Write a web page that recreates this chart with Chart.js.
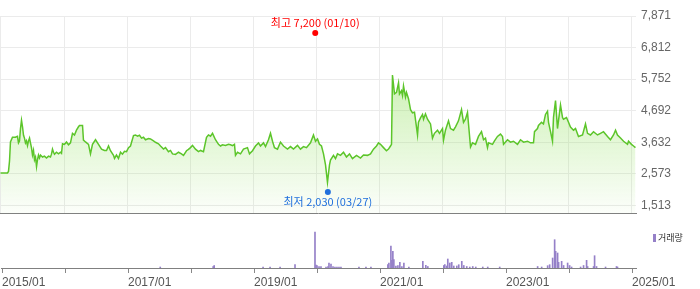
<!DOCTYPE html>
<html><head><meta charset="utf-8">
<script src="https://cdn.jsdelivr.net/npm/chart.js@4.4.1/dist/chart.umd.min.js"></script>
<style>
html,body{margin:0;padding:0;background:#fff;}
#wrap{position:relative;width:700px;height:289px;overflow:hidden;}
#p{position:absolute;left:0;top:0;}
#v{position:absolute;left:0;top:226px;}
</style></head><body>
<div id="wrap"><canvas id="p" width="700" height="226"></canvas><canvas id="v" width="700" height="63"></canvas></div>
<script>
// ---- data (dates as decimal years) ----
const priceDates = [2014.992,2015.103,2015.119,2015.135,2015.150,2015.182,2015.230,2015.246,2015.261,2015.277,2015.293,2015.309,2015.325,2015.341,2015.357,2015.372,2015.388,2015.404,2015.420,2015.436,2015.452,2015.467,2015.483,2015.499,2015.515,2015.531,2015.547,2015.563,2015.578,2015.594,2015.610,2015.626,2015.658,2015.689,2015.721,2015.753,2015.784,2015.800,2015.816,2015.832,2015.848,2015.879,2015.911,2015.943,2015.959,2015.975,2016.006,2016.038,2016.070,2016.101,2016.133,2016.165,2016.196,2016.228,2016.244,2016.292,2016.307,2016.339,2016.387,2016.418,2016.450,2016.498,2016.545,2016.593,2016.640,2016.672,2016.704,2016.735,2016.783,2016.799,2016.830,2016.862,2016.894,2016.925,2016.957,2016.989,2017.021,2017.052,2017.100,2017.131,2017.163,2017.195,2017.227,2017.258,2017.290,2017.338,2017.369,2017.417,2017.448,2017.496,2017.528,2017.575,2017.607,2017.654,2017.686,2017.718,2017.765,2017.813,2017.860,2017.892,2017.940,2017.971,2018.003,2018.035,2018.082,2018.130,2018.162,2018.209,2018.257,2018.288,2018.320,2018.352,2018.399,2018.447,2018.479,2018.510,2018.558,2018.605,2018.637,2018.669,2018.700,2018.716,2018.748,2018.796,2018.843,2018.906,2018.938,2018.986,2019.033,2019.081,2019.112,2019.160,2019.192,2019.239,2019.271,2019.303,2019.334,2019.382,2019.429,2019.477,2019.540,2019.588,2019.635,2019.699,2019.746,2019.794,2019.841,2019.905,2019.952,2019.984,2020.016,2020.047,2020.079,2020.111,2020.143,2020.174,2020.206,2020.222,2020.269,2020.301,2020.333,2020.380,2020.428,2020.475,2020.523,2020.570,2020.634,2020.697,2020.745,2020.808,2020.856,2020.903,2020.951,2020.983,2021.014,2021.062,2021.109,2021.141,2021.173,2021.189,2021.204,2021.236,2021.268,2021.300,2021.315,2021.347,2021.363,2021.379,2021.410,2021.426,2021.458,2021.490,2021.521,2021.553,2021.601,2021.616,2021.648,2021.680,2021.696,2021.727,2021.759,2021.807,2021.838,2021.870,2021.918,2021.949,2021.997,2022.013,2022.044,2022.092,2022.124,2022.171,2022.203,2022.250,2022.298,2022.330,2022.361,2022.393,2022.441,2022.472,2022.520,2022.567,2022.615,2022.647,2022.678,2022.710,2022.726,2022.789,2022.821,2022.868,2022.916,2022.948,2022.964,2023.027,2023.074,2023.122,2023.185,2023.233,2023.281,2023.344,2023.391,2023.439,2023.455,2023.502,2023.518,2023.566,2023.597,2023.629,2023.661,2023.677,2023.708,2023.740,2023.756,2023.788,2023.819,2023.867,2023.899,2023.914,2023.962,2023.994,2024.025,2024.073,2024.105,2024.152,2024.216,2024.263,2024.295,2024.342,2024.390,2024.453,2024.501,2024.548,2024.612,2024.659,2024.707,2024.739,2024.770,2024.818,2024.866,2024.929,2024.945,2024.992,2025.024,2025.055];
const priceValues = [2600,2600,2650,3000,3640,3800,3800,3820,3830,3610,3675,4090,4370,4150,3865,3770,3610,3680,3515,3675,3770,3610,3450,3200,3355,3040,3135,2815,3040,3200,3100,3200,3135,3165,3100,3165,3135,3230,3400,3295,3230,3295,3240,3295,3260,3580,3560,3640,3545,3610,3930,3875,4035,4150,4195,4195,3700,3640,3560,3240,3560,3715,3560,3400,3355,3355,3505,3345,3190,3085,3200,3085,3295,3230,3325,3315,3450,3505,3855,3875,3835,3865,3770,3800,3715,3755,3740,3675,3630,3580,3505,3400,3450,3315,3355,3240,3220,3295,3240,3190,3345,3390,3450,3525,3400,3315,3355,3315,3795,3875,3835,3930,3715,3560,3505,3545,3525,3565,3545,3515,3560,3190,3295,3240,3400,3450,3240,3345,3505,3610,3505,3610,3485,3715,3930,3665,3450,3400,3635,3505,3400,3485,3400,3525,3400,3485,3450,3610,3875,3665,3740,3560,3505,3240,2870,2285,2870,3030,3190,3080,3240,3190,3295,3135,3240,3080,3190,3100,3205,3190,3240,3400,3505,3610,3560,3450,3345,3400,3505,3560,5890,5255,5305,5625,5255,5360,5200,5520,5145,5305,5095,4725,4620,4640,3875,4300,4450,4565,4405,4585,4405,4245,3770,3930,4035,3930,4090,3700,4035,4350,4090,4035,4150,4350,4725,4300,4405,4630,3470,3610,3560,3825,3985,3715,3770,3450,3610,3560,3675,3825,3905,3825,3560,3715,3635,3665,3560,3715,3635,3665,3610,3610,3985,4090,4195,4300,4245,4565,4670,4300,3995,3665,4470,5030,4090,4880,4460,4405,4460,4300,4140,4035,4090,3825,3875,4245,3930,3875,3985,3875,3930,3985,3825,3715,3875,4035,3875,3770,3665,3560,3665,3560,3505,3450];

const volumeDates = [2017.512,2018.352,2018.368,2019.144,2019.255,2019.414,2019.651,2019.968,2019.984,2020.000,2020.032,2020.063,2020.143,2020.174,2020.190,2020.222,2020.254,2020.285,2020.317,2020.349,2020.380,2020.666,2020.777,2020.856,2021.125,2021.141,2021.173,2021.189,2021.204,2021.220,2021.252,2021.284,2021.315,2021.347,2021.379,2021.458,2021.680,2021.727,2021.759,2022.013,2022.029,2022.060,2022.076,2022.108,2022.139,2022.171,2022.219,2022.250,2022.298,2022.330,2022.377,2022.425,2022.472,2022.520,2022.631,2022.710,2022.900,2023.502,2023.566,2023.661,2023.693,2023.740,2023.772,2023.788,2023.819,2023.835,2023.883,2023.914,2023.978,2024.010,2024.041,2024.184,2024.231,2024.279,2024.295,2024.390,2024.406,2024.437,2024.580,2024.754,2024.770];
const volumeValues = [1,1.5,2.5,1,1,1,3.5,36,3,2.5,1.5,1.5,1,1.5,5,4,1.5,1,1,1,1,1,1,1,3.3,5,22,7.7,16.7,8.3,2,2.5,5.7,1.5,5,1,6.7,2.7,1.5,2.5,3.3,2,9,5,5.7,2,2,3.3,6.7,2.5,1.5,1,1.5,1,1,1,1,1.5,1,2.3,3.3,10,28.3,16.7,15,5.7,6.7,2.5,5,2.5,1,1,2.5,7.7,1.5,1.5,12.3,1.5,1,1.5,1];

const yearTicks = [2015,2016,2017,2018,2019,2020,2021,2022,2023,2024,2025];
const labeledYears = [2015,2017,2019,2021,2023,2025];
const yearLabels = ['2015/01','2017/01','2019/01','2021/01','2023/01','2025/01'];
const priceTicks = [1513,2573,3632,4692,5752,6812,7871];
const highMark = {date:2019.98, value:7200, label:'최고 7,200 (01/10)'};
const lowMark = {date:2020.18, value:2030, label:'최저 2,030 (03/27)'};
const volumeLegend = '거래량';

// ---- styling ----
const X_MIN = 2014.9842, X_MAX = 2025.0634;
const Y_MIN = 1227, Y_MAX = 7871;
const NARROW = "'Liberation Sans Narrow','Liberation Sans',Arial,sans-serif";
const KR = "'Noto Sans CJK KR','Noto Sans',sans-serif";
const LINE = '#5cc52a';
const VOL = '#9580c8';
const GRID = '#ebebeb';

const xTicksFn = s => { s.ticks = yearTicks.map(v => ({value: v})); };

const markPlugin = {
  id: 'marks',
  afterDatasetsDraw(chart) {
    const {ctx, scales:{x, y}} = chart;
    const items = [[highMark, '#ff0000', -3, -10], [lowMark, '#1f6fdc', 2, 10]];
    ctx.save();
    for (const [m, col, dOff, tOff] of items) {
      const px = x.getPixelForValue(m.date), py = y.getPixelForValue(m.value) + dOff;
      ctx.fillStyle = col;
      ctx.beginPath(); ctx.arc(px, py, 3, 0, Math.PI * 2); ctx.fill();
      ctx.font = '11px ' + KR;
      ctx.textAlign = 'center'; ctx.textBaseline = 'middle';
      ctx.fillText(m.label, px, py + tOff);
    }
    ctx.restore();
  }
};

new Chart(document.getElementById('p'), {
  type: 'line',
  data: { datasets: [{
    data: priceDates.map((d, i) => ({x: d, y: priceValues[i]})),
    borderColor: LINE, borderWidth: 1.5, pointRadius: 0, tension: 0,
    fill: 'start',
    backgroundColor: (c) => {
      const {ctx, chartArea} = c.chart;
      if (!chartArea) return 'rgba(150,225,100,0.3)';
      const g = ctx.createLinearGradient(0, chartArea.top, 0, chartArea.bottom);
      g.addColorStop(0, 'rgba(150,225,100,0.66)');
      g.addColorStop(1, 'rgba(150,225,100,0.03)');
      return g;
    }
  }]},
  options: {
    responsive: false, animation: false, devicePixelRatio: 1,
    layout: { padding: { top: 16, left: 0, right: 0, bottom: 0 } },
    plugins: { legend: { display: false }, tooltip: { enabled: false } },
    scales: {
      x: { type: 'linear', min: X_MIN, max: X_MAX, afterBuildTicks: xTicksFn,
           ticks: { display: false }, grid: { color: GRID, drawTicks: false },
           border: { display: true, color: '#808080' } },
      y: { position: 'right', min: Y_MIN, max: Y_MAX,
           afterBuildTicks: s => { s.ticks = priceTicks.map(v => ({value: v})); },
           afterFit: s => { s.width = 64; },
           ticks: { color: '#666', padding: 5, font: { family: NARROW, size: 12 },
                    callback: v => v.toLocaleString('en-US') },
           grid: { color: GRID, drawTicks: false }, border: { display: false } }
    }
  },
  plugins: [markPlugin]
});

const legendPlugin = {
  id: 'volLegend',
  afterDraw(chart) {
    const {ctx, chartArea} = chart;
    ctx.save();
    ctx.fillStyle = VOL;
    ctx.fillRect(chartArea.right + 17, 8, 3, 8);
    ctx.fillStyle = '#333';
    ctx.font = '9px ' + KR;
    ctx.textAlign = 'left'; ctx.textBaseline = 'middle';
    ctx.fillText(volumeLegend, chartArea.right + 22, 12);
    ctx.restore();
  }
};

new Chart(document.getElementById('v'), {
  type: 'bar',
  data: { datasets: [{
    data: volumeDates.map((d, i) => ({x: d, y: volumeValues[i]})),
    backgroundColor: VOL, barThickness: 1, borderWidth: 0
  }]},
  options: {
    responsive: false, animation: false, devicePixelRatio: 1,
    layout: { padding: { top: 0, left: 0, right: 64, bottom: 0 } },
    plugins: { legend: { display: false }, tooltip: { enabled: false } },
    scales: {
      x: { type: 'linear', min: X_MIN, max: X_MAX, offset: false, afterBuildTicks: xTicksFn,
           afterFit: s => { s.height = 21; },
           grid: { offset: false, drawOnChartArea: false, drawTicks: true, tickLength: 5, color: '#888' },
           border: { display: true, color: '#808080' },
           ticks: { color: '#555', padding: 2, align: 'start', maxRotation: 0, autoSkip: false,
                    font: { family: NARROW, size: 12 },
                    callback: v => { const i = labeledYears.indexOf(v); return i >= 0 ? yearLabels[i] : ''; } } },
      y: { display: false, min: 0, max: 42 }
    }
  },
  plugins: [legendPlugin]
});
</script>
</body></html>
